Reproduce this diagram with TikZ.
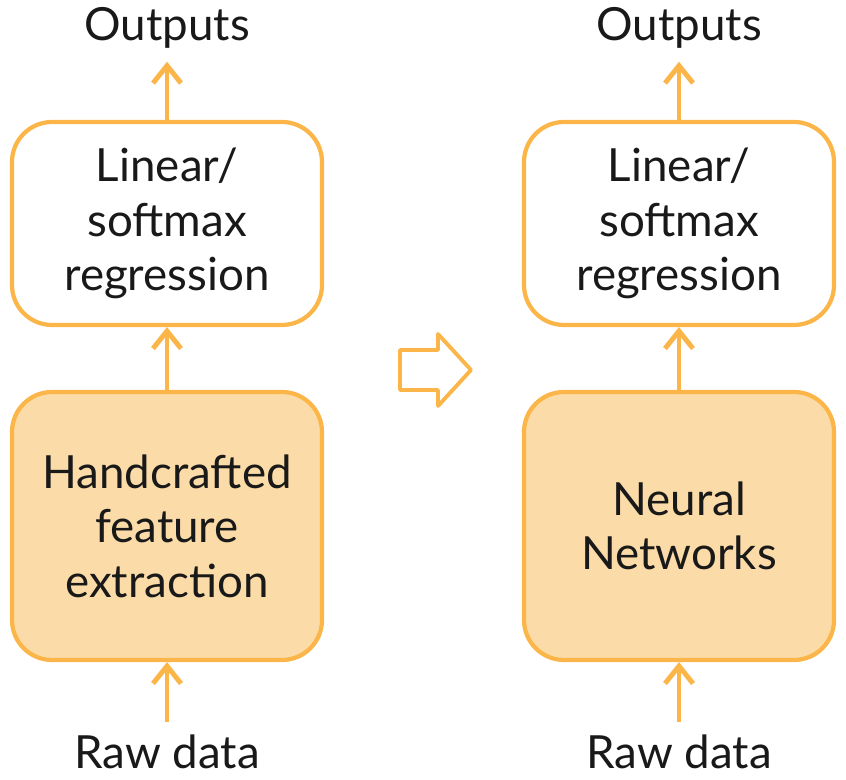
\documentclass[tikz,border=0pt]{standalone}
\usepackage{fontspec}
\setmainfont{Lato}
\usetikzlibrary{positioning,arrows.meta}
\definecolor{ora}{HTML}{FBB548}
\definecolor{orafill}{HTML}{FBDBA7}

\begin{document}
\begin{tikzpicture}[every node/.style={font=\fontsize{26}{31}\selectfont,text=black!90},
    blk/.style={draw=ora,line width=2.4pt,rounded corners=0.8cm,minimum width=6.2cm,align=center},
    up/.style={draw=ora,line width=2.8pt,-{Straight Barb[length=3.5mm,width=5.6mm]}}]
    \useasboundingbox (0,0) rectangle (16.92,15.6);
    % left: classic pipeline
    \node[blk,minimum height=4.06cm] (lreg) at (3.34,11.13) {Linear/\\softmax\\regression};
    \node[blk,fill=orafill,minimum height=5.36cm] (lfeat) at (3.34,5.08) {Handcrafted\\feature\\extraction};
    \node (lout) at (3.34,15.04) {Outputs};
    \node (lraw) at (3.34,0.56) {Raw data};
    \draw[up] (lfeat.north) -- (lreg.south);
    \draw[up,shorten >=4pt] (lreg.north) -- (lout);
    \draw[up,shorten <=4pt] (lraw) -- (lfeat.south);
    % right: learned features
    \node[blk,minimum height=4.06cm] (rreg) at (13.58,11.13) {Linear/\\softmax\\regression};
    \node[blk,fill=orafill,minimum height=5.36cm] (rnet) at (13.58,5.08) {Neural\\Networks};
    \node (rout) at (13.58,15.04) {Outputs};
    \node (rraw) at (13.58,0.56) {Raw data};
    \draw[up] (rnet.north) -- (rreg.south);
    \draw[up,shorten >=4pt] (rreg.north) -- (rout);
    \draw[up,shorten <=4pt] (rraw) -- (rnet.south);
    % block arrow
    \draw[ora,line width=2.2pt,line join=round]
      (8.0,8.6) -- (8.76,8.6) -- (8.76,8.92) -- (9.42,8.2) -- (8.76,7.48)
      -- (8.76,7.8) -- (8.0,7.8) -- cycle;
  \end{tikzpicture}
\end{document}
